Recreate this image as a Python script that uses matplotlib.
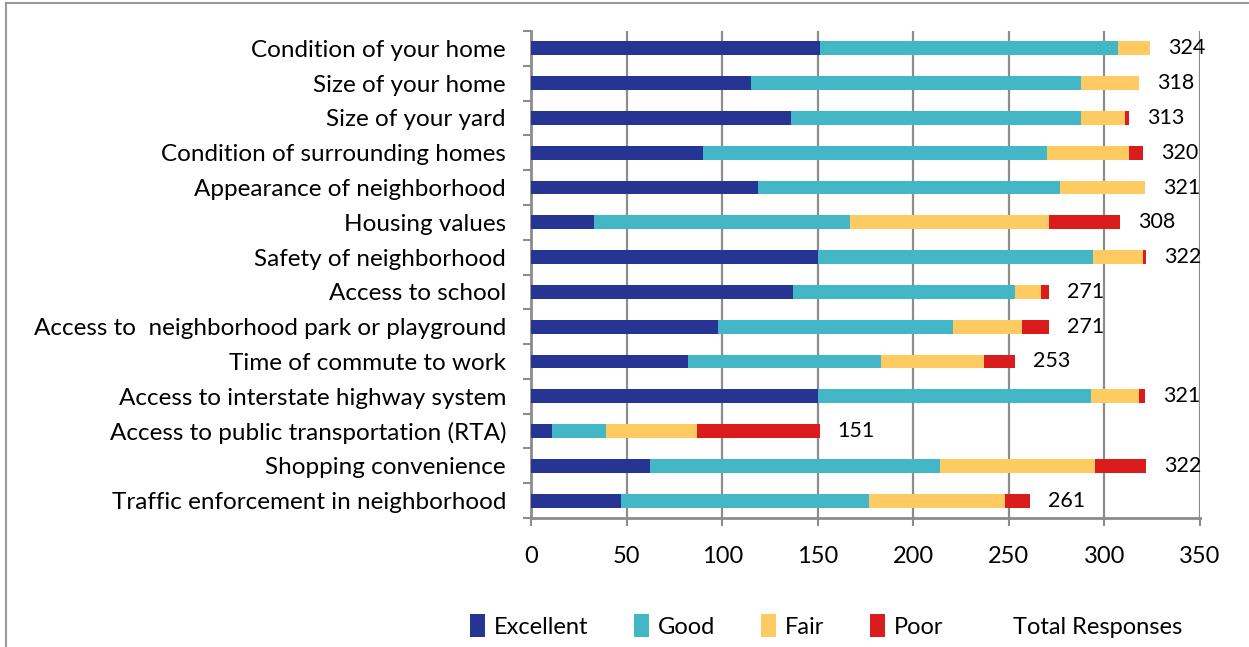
import matplotlib
matplotlib.use("Agg")
import matplotlib.pyplot as plt
import numpy as np
from matplotlib.patches import Patch
from matplotlib.lines import Line2D

plt.rcParams['font.family'] = ['Lato', 'DejaVu Sans']

categories = [
    "Condition of your home",
    "Size of your home",
    "Size of your yard",
    "Condition of surrounding homes",
    "Appearance of neighborhood",
    "Housing values",
    "Safety of neighborhood",
    "Access to school",
    "Access to  neighborhood park or playground",
    "Time of commute to work",
    "Access to interstate highway system",
    "Access to public transportation (RTA)",
    "Shopping convenience",
    "Traffic enforcement in neighborhood",
]
excellent = [151, 115, 136, 90, 119, 33, 150, 137, 98, 82, 150, 11, 62, 47]
good      = [156, 173, 152, 180, 158, 134, 144, 116, 123, 101, 143, 28, 152, 130]
fair      = [17, 30, 23, 43, 44, 104, 26, 14, 36, 54, 25, 48, 81, 71]
poor      = [0, 0, 2, 7, 0, 37, 2, 4, 14, 16, 3, 64, 27, 13]
total_responses = [324, 318, 313, 320, 321, 308, 322, 271, 271, 253, 321, 151, 322, 261]

series = [
    ("Excellent", excellent, "#263594"),
    ("Good", good, "#43B7C5"),
    ("Fair", fair, "#FDCB62"),
    ("Poor", poor, "#DA1C1C"),
]

fig = plt.figure(figsize=(12.49, 6.47), dpi=100)
ax = fig.add_axes([531 / 1249, 1 - 518 / 647, (1200 - 531) / 1249, (518 - 31) / 647])

y = np.arange(len(categories))
left = np.zeros(len(categories))
for name, vals, color in series:
    ax.barh(y, vals, left=left, height=0.4, color=color, label=name, zorder=3)
    left = left + np.array(vals)

# total labels to the right of each bar
for yi, tot in zip(y, total_responses):
    ax.annotate(f"{tot}", xy=(tot, yi), xytext=(13, 0), textcoords="offset points",
                ha="left", va="center", fontsize=15.5, color="black")

ax.set_xlim(0, 350)
ax.set_ylim(len(categories) - 0.5, -0.5)
ax.set_xticks(np.arange(0, 351, 50))
ax.set_yticks(y)
ax.set_yticklabels(categories)
ax.set_yticks(np.arange(-0.5, len(categories) + 0.5, 1), minor=True)

grid_c = "#8C8C8C"
ax.xaxis.grid(True, color=grid_c, linewidth=1.6, zorder=0)
for s in ["top", "right"]:
    ax.spines[s].set_visible(False)
for s in ["left", "bottom"]:
    ax.spines[s].set_color(grid_c)
    ax.spines[s].set_linewidth(2)

ax.tick_params(axis="y", which="major", length=0, pad=18, labelsize=17.5)
ax.tick_params(axis="y", which="minor", length=6, width=1.5, color=grid_c, direction="out")
ax.tick_params(axis="x", which="major", length=6, width=1.5, color=grid_c, direction="out",
               pad=14, labelsize=17)

handles = [Patch(facecolor=c, edgecolor="none") for _, _, c in series]
labels = [n for n, _, _ in series]
handles.append(Patch(facecolor="none", edgecolor="none"))
labels.append("Total Responses")
fig.legend(handles, labels, loc="center", bbox_to_anchor=(826 / 1249, 1 - 626 / 647),
           ncol=5, frameon=False, fontsize=17, handlelength=0.65, handleheight=1.1,
           handletextpad=0.35, columnspacing=1.95)

# chart area border
fig.add_artist(Line2D([6 / 1249, 6 / 1249], [0, 1 - 3 / 647], transform=fig.transFigure,
                      color="#9A9A9A", linewidth=1.5))
fig.add_artist(Line2D([6 / 1249, 1], [1 - 3 / 647, 1 - 3 / 647], transform=fig.transFigure,
                      color="#9A9A9A", linewidth=1.5))

fig.savefig("out.png", dpi=100)
